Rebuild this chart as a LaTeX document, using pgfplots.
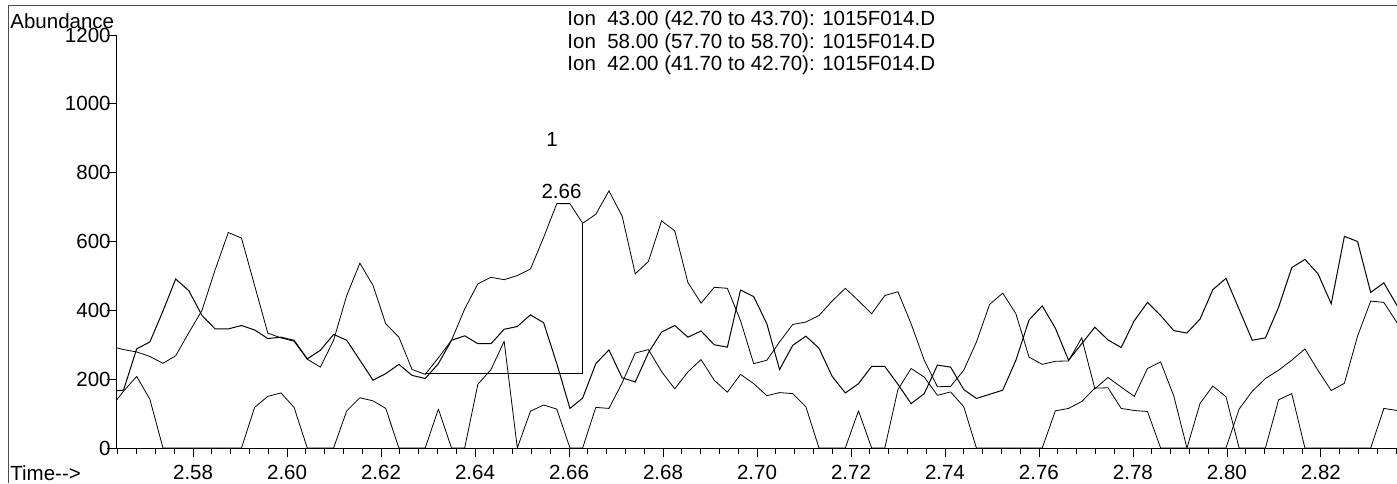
\documentclass[border=0pt]{standalone}
\usepackage{fontspec}
\setmainfont{Liberation Sans}
\usepackage{pgfplots}
\pgfplotsset{compat=1.18}
\usepackage{pgfplotstable}

% Extracted ion chromatograms, one row per scan: time (min) and abundance
% for the three ion traces.
\pgfplotstableread{
t      a    b    c
2.5624 296  165  116
2.5652 286  168  165
2.5680 279  288  208
2.5708 266  308  142
2.5736 246  398  0
2.5763 268  491  0
2.5791 335  457  0
2.5819 400  385  0
2.5847 518  346  0
2.5875 626  346  0
2.5903 610  356  0
2.5931 472  343  118
2.5959 334  318  150
2.5987 320  322  160
2.6015 310  313  118
2.6043 258  259  0
2.6071 235  284  0
2.6099 313  330  0
2.6127 443  313  108
2.6155 537  255  146
2.6183 472  197  137
2.6210 361  216  115
2.6238 322  243  0
2.6266 228  211  0
2.6294 214  202  0
2.6322 262  245  113
2.6350 313  313  0
2.6378 404  326  0
2.6406 477  303  185
2.6434 496  303  228
2.6462 489  345  310
2.6490 501  353  0
2.6518 520  387  107
2.6546 612  364  125
2.6574 710  245  113
2.6602 710  115  0
2.6629 653  145  0
2.6657 679  245  118
2.6685 747  285  115
2.6713 674  204  189
2.6741 506  192  276
2.6769 542  277  286
2.6797 660  337  222
2.6825 631  356  172
2.6853 481  322  221
2.6881 421  340  257
2.6909 467  300  197
2.6937 464  293  162
2.6965 370  459  214
2.6993 245  440  187
2.7021 255  361  152
2.7048 308  228  161
2.7076 359  298  158
2.7104 366  325  120
2.7132 385  290  0
2.7160 427  208  0
2.7188 464  160  0
2.7216 428  187  108
2.7244 390  237  0
2.7272 443  237  0
2.7300 454  185  170
2.7328 361  129  231
2.7356 255  158  206
2.7384 178  241  153
2.7412 179  235  163
2.7440 226  170  120
2.7467 308  144  0
2.7495 417  156  0
2.7523 450  168  0
2.7551 390  255  0
2.7579 264  372  0
2.7607 243  413  0
2.7635 252  348  108
2.7663 253  255  115
2.7691 320  303  135
2.7719 172  351  174
2.7747 205  314  175
2.7775 177  292  115
2.7803 150  370  109
2.7831 231  423  106
2.7859 250  385  0
2.7887 151  341  0
2.7915 0    334  0
2.7943 130  375  0
2.7970 180  460  0
2.7998 149  493  0
2.8026 0    403  113
2.8054 0    313  165
2.8082 0    320  202
2.8110 140  409  226
2.8138 158  524  255
2.8166 0    548  288
2.8194 0    506  225
2.8222 0    419  167
2.8250 0    615  188
2.8278 0    600  325
2.8306 0    452  427
2.8334 115  480  423
2.8362 109  414  364
}\ionscans

\newcommand{\chemfont}{\fontsize{10.25}{12}\selectfont}

\begin{document}
\begin{tikzpicture}
\useasboundingbox (0,0) rectangle (698.5pt,241.5pt);

% page frame
\draw[black!70, line width=0.5pt] (4pt,0pt) -- (4pt,238.5pt) -- (698.5pt,238.5pt);

\begin{axis}[
  at={(58pt,17.5pt)}, anchor=south west,
  width=640.5pt, height=206.5pt, scale only axis,
  xmin=2.5636, xmax=2.8362, ymin=0, ymax=1200,
  axis lines*=left,
  axis line style={black, line width=0.5pt},
  tick align=outside,
  major tick length=4.5pt, minor tick length=3pt,
  tick style={black, line width=0.4pt},
  xtick={2.58,2.60,2.62,2.64,2.66,2.68,2.70,2.72,2.74,2.76,2.78,2.80,2.82},
  minor xtick={2.564,2.568,2.572,2.576,2.584,2.588,2.592,2.596,2.604,2.608,2.612,2.616,
    2.624,2.628,2.632,2.636,2.644,2.648,2.652,2.656,2.664,2.668,2.672,2.676,
    2.684,2.688,2.692,2.696,2.704,2.708,2.712,2.716,2.724,2.728,2.732,2.736,
    2.744,2.748,2.752,2.756,2.764,2.768,2.772,2.776,2.784,2.788,2.792,2.796,
    2.804,2.808,2.812,2.816,2.824,2.828,2.832,2.836},
  ytick={0,200,400,600,800,1000,1200},
  scaled x ticks=false, scaled y ticks=false,
  /pgf/number format/assume math mode=true,
  /pgf/number format/1000 sep={},
  xticklabel style={/pgf/number format/fixed, /pgf/number format/fixed zerofill,
    /pgf/number format/precision=2, anchor=base, inner sep=0pt, yshift=-11pt},
  yticklabel style={anchor=east, inner sep=0pt, xshift=2pt},
  tick label style={font=\chemfont},
  clip=true,
  cycle list={{black, line width=0.5pt, line join=round, mark=none}},
]
\addplot table[x=t, y=a] {\ionscans};
\addplot table[x=t, y=b] {\ionscans};
\addplot table[x=t, y=c] {\ionscans};
% integration baseline and end drop of peak 1
\addplot coordinates {(2.6294,216) (2.6629,216) (2.6629,653)};
\node[font=\chemfont, anchor=base] at (axis cs:2.6564,877) {1};
\node[font=\chemfont, anchor=base] at (axis cs:2.6584,724) {2.66};
\end{axis}

\node[font=\chemfont, anchor=base west, inner sep=0pt] at (5pt,227pt) {Abundance};
\node[font=\chemfont, anchor=base west, inner sep=0pt] at (5pt,1.5pt) {Time-{}->};
\node[font=\chemfont, anchor=base west, inner sep=0pt] at (283.5pt,228.5pt) {Ion\ \ 43.00 (42.70 to 43.70): 1015F014.D};
\node[font=\chemfont, anchor=base west, inner sep=0pt] at (283.5pt,217.35pt) {Ion\ \ 58.00 (57.70 to 58.70): 1015F014.D};
\node[font=\chemfont, anchor=base west, inner sep=0pt] at (283.5pt,206.15pt) {Ion\ \ 42.00 (41.70 to 42.70): 1015F014.D};
\end{tikzpicture}
\end{document}
